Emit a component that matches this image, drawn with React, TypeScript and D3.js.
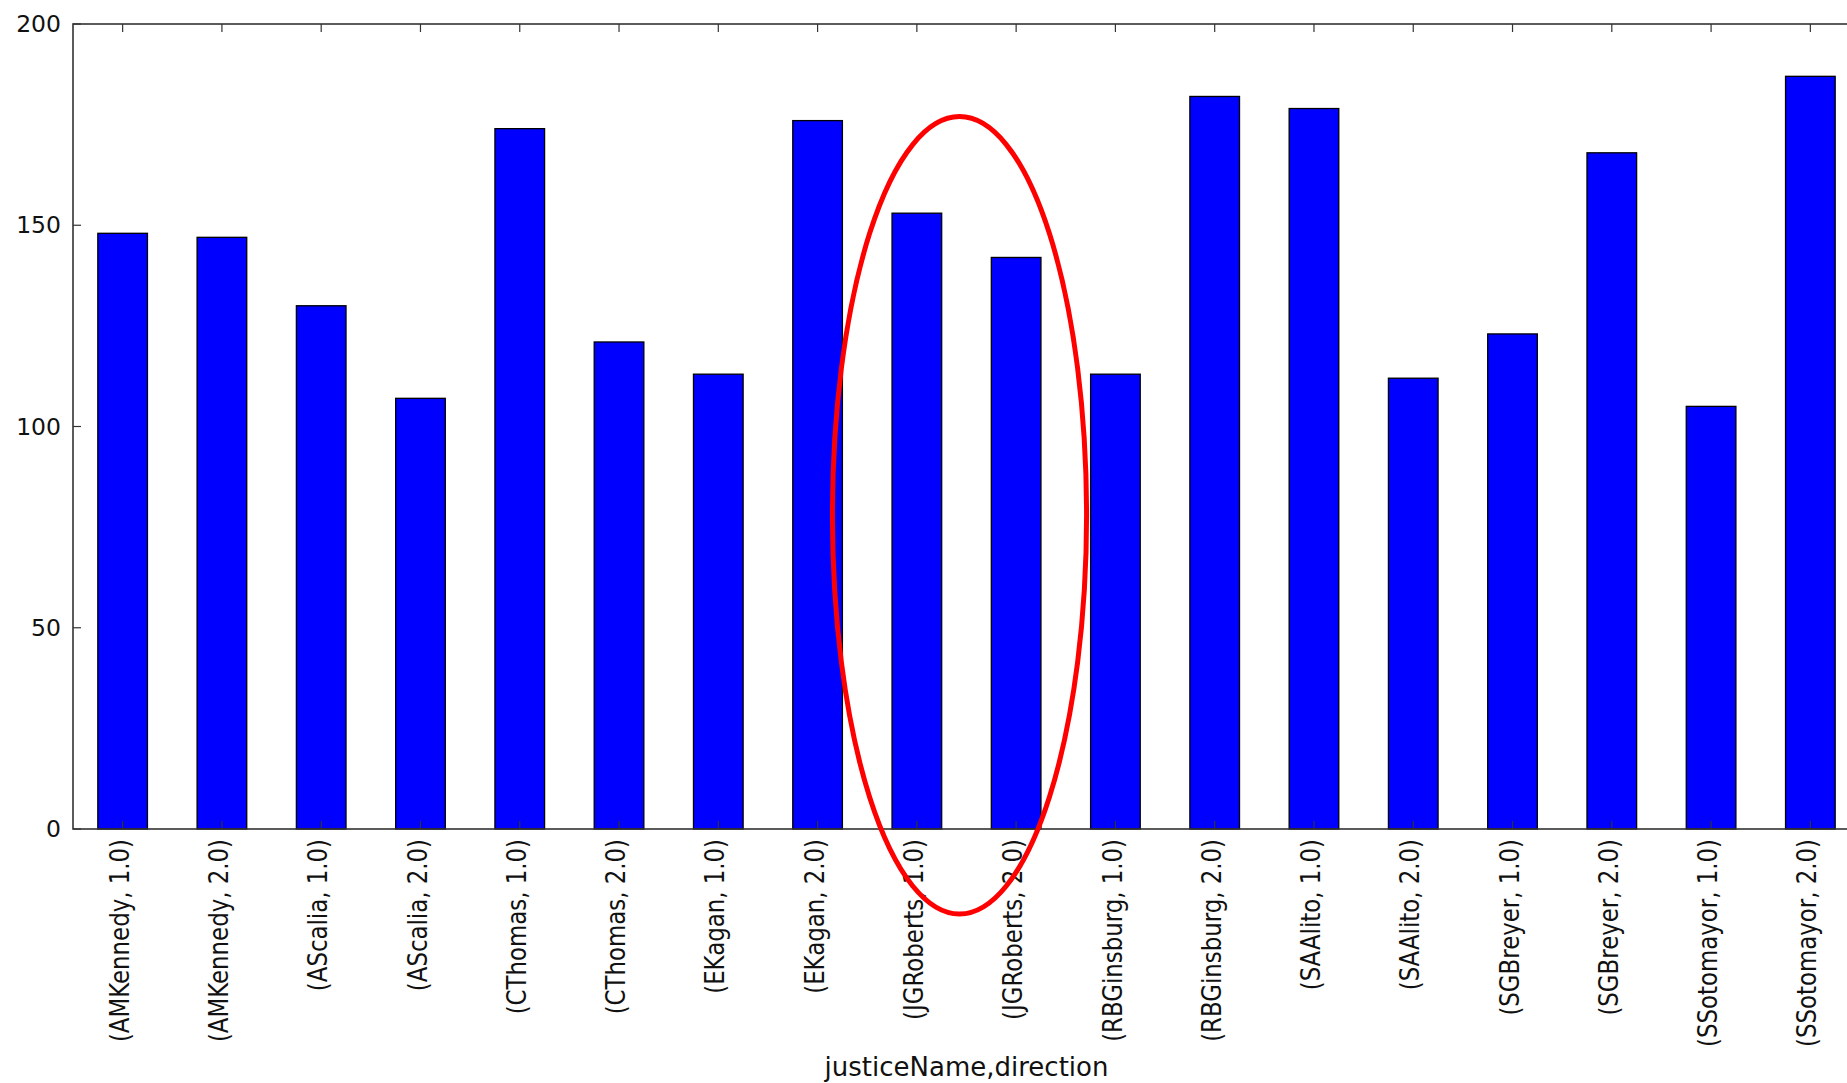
import React from "react";
import * as d3 from "d3";

const categories: string[] = [
  "(AMKennedy, 1.0)", "(AMKennedy, 2.0)",
  "(AScalia, 1.0)", "(AScalia, 2.0)",
  "(CThomas, 1.0)", "(CThomas, 2.0)",
  "(EKagan, 1.0)", "(EKagan, 2.0)",
  "(JGRoberts, 1.0)", "(JGRoberts, 2.0)",
  "(RBGinsburg, 1.0)", "(RBGinsburg, 2.0)",
  "(SAAlito, 1.0)", "(SAAlito, 2.0)",
  "(SGBreyer, 1.0)", "(SGBreyer, 2.0)",
  "(SSotomayor, 1.0)", "(SSotomayor, 2.0)",
];
const counts: number[] = [148, 147, 130, 107, 174, 121, 113, 176, 153, 142, 113, 182, 179, 112, 123, 168, 105, 187];
const yTicks: number[] = [0, 50, 100, 150, 200];
const xAxisLabel = "justiceName,direction";
const highlighted: string[] = ["(JGRoberts, 1.0)", "(JGRoberts, 2.0)"];

const W = 1847;
const H = 1083;
const M = { left: 73, top: 24, right: 1860, bottom: 829 };
const FONT = "DejaVu Sans, sans-serif";

export default function App() {
  const x = d3
    .scaleBand<string>()
    .domain(categories)
    .range([M.left, M.right])
    .paddingInner(0.5)
    .paddingOuter(0.25);
  const y = d3.scaleLinear().domain([0, 200]).range([M.bottom, M.top]);
  const bw = x.bandwidth();
  const cx = (c: string) => (x(c) as number) + bw / 2;

  const e1 = cx(highlighted[0]);
  const e2 = cx(highlighted[1]);
  const ellCx = (e1 + e2) / 2 - 7;
  const ellRx = (e2 - e1) * 1.28;
  const ellTop = y(177);
  const ellBottom = 914;
  const ellCy = (ellTop + ellBottom) / 2;
  const ellRy = (ellBottom - ellTop) / 2;

  return (
    <svg
      width={W}
      height={H}
      style={{ position: "absolute", left: 0, top: 0, background: "#fff" }}
      fontFamily={FONT}
    >
      <rect x={0} y={0} width={W} height={H} fill="#fff" />
      {categories.map((c, i) => (
        <rect
          key={c}
          x={x(c)}
          y={y(counts[i])}
          width={bw}
          height={y(0) - y(counts[i])}
          fill="#0000ff"
          stroke="#000"
          strokeWidth={1.3}
        />
      ))}
      {/* frame */}
      <rect
        x={M.left}
        y={M.top}
        width={M.right - M.left}
        height={M.bottom - M.top}
        fill="none"
        stroke="#333"
        strokeWidth={1.6}
      />
      {/* x ticks */}
      {categories.map((c) => (
        <g key={"t" + c}>
          <line x1={cx(c)} x2={cx(c)} y1={M.top} y2={M.top + 8} stroke="#333" strokeWidth={1.2} />
          <line x1={cx(c)} x2={cx(c)} y1={M.bottom} y2={M.bottom - 8} stroke="#333" strokeWidth={1.2} />
          <text
            transform={`translate(${cx(c) - 3},${M.bottom + 10}) rotate(-90) scale(0.88,1)`}
            textAnchor="end"
            dy="0.35em"
            fontSize={26}
            fill="#111"
          >
            {c}
          </text>
        </g>
      ))}
      {/* y ticks */}
      {yTicks.map((t) => (
        <g key={"y" + t}>
          <line x1={M.left} x2={M.left + 8} y1={y(t)} y2={y(t)} stroke="#333" strokeWidth={1.2} />
          <line x1={M.right} x2={M.right - 8} y1={y(t)} y2={y(t)} stroke="#333" strokeWidth={1.2} />
          <text x={M.left - 12} y={y(t)} dy="0.35em" textAnchor="end" fontSize={23.5} fill="#111">
            {t}
          </text>
        </g>
      ))}
      <text
        x={(M.left + M.right) / 2}
        y={1076}
        textAnchor="middle"
        fontSize={26}
        fill="#111"
      >
        {xAxisLabel}
      </text>
      <ellipse cx={ellCx} cy={ellCy} rx={ellRx} ry={ellRy} fill="none" stroke="#ff0000" strokeWidth={5} />
    </svg>
  );
}
